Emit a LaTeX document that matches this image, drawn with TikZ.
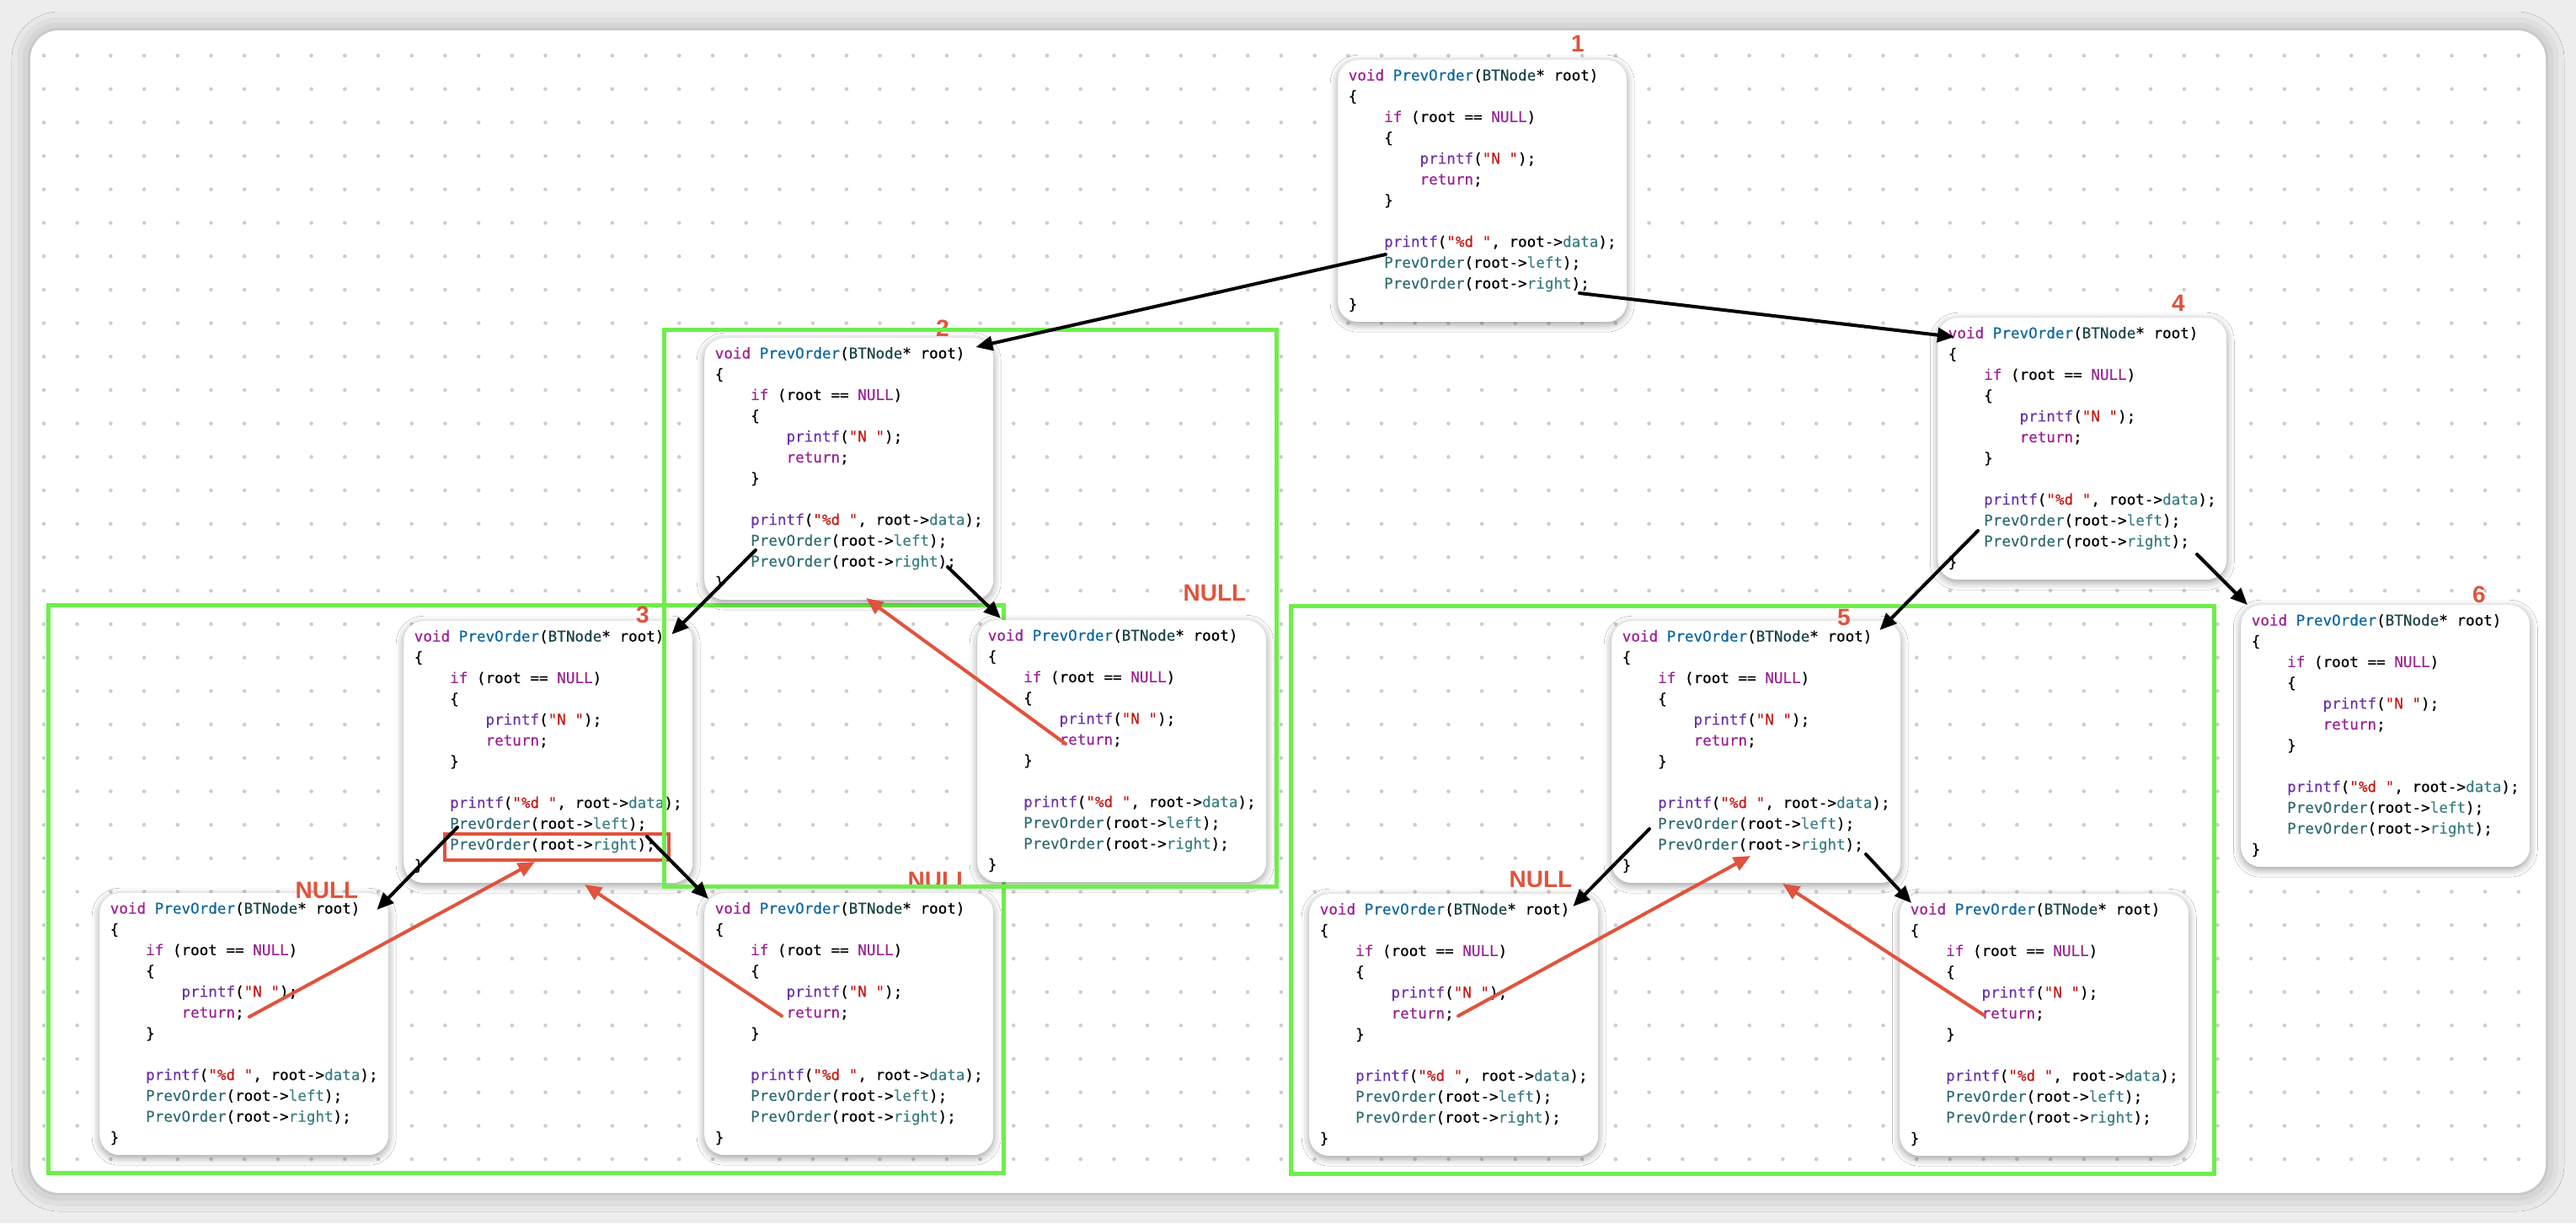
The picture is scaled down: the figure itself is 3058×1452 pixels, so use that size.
\documentclass[tikz,border=0pt]{standalone}
\usepackage{fontspec}
\setmonofont{DejaVu Sans Mono}[FakeBold=0.5]
\newfontfamily\labelfont{Liberation Sans}
\usetikzlibrary{arrows.meta,shadows.blur}

\definecolor{kwpurple}{HTML}{9B2393}
\definecolor{fnviolet}{HTML}{6C36A9}
\definecolor{declblue}{HTML}{0F68A0}
\definecolor{typeteal}{HTML}{1C464A}
\definecolor{callteal}{HTML}{326D74}
\definecolor{propteal}{HTML}{3E8087}
\definecolor{strred}{HTML}{C41A16}
\definecolor{notered}{HTML}{E0533D}
\definecolor{boxgreen}{HTML}{6EEE4C}
\definecolor{dotgray}{HTML}{CDCDCD}
\definecolor{canvasgray}{HTML}{EDEDED}

\newcommand\codefont{\ttfamily\fontsize{17.6pt}{24.7pt}\selectfont}
\newcommand\cs{\rule[-7.7pt]{0pt}{24.7pt}}
\newcommand\ind{\phantom{0000}}
\newcommand\kw[1]{\textcolor{kwpurple}{#1}}
\newcommand\fn[1]{\textcolor{fnviolet}{#1}}
\newcommand\str[1]{\textcolor{strred}{#1}}
\newcommand\callfn[1]{\textcolor{callteal}{#1}}
\newcommand\prop[1]{\textcolor{propteal}{#1}}
\newcommand\prevcode{%
\cs\kw{void} \textcolor{declblue}{PrevOrder}(\textcolor{typeteal}{BTNode}* root)\\
\cs\{\\
\cs\ind\kw{if} (root == \kw{NULL})\\
\cs\ind\{\\
\cs\ind\ind\fn{printf}(\str{"N "});\\
\cs\ind\ind\kw{return};\\
\cs\ind\}\\
\cs\\
\cs\ind\fn{printf}(\str{"\%d "}, root->\prop{data});\\
\cs\ind\callfn{PrevOrder}(root->\prop{left});\\
\cs\ind\callfn{PrevOrder}(root->\prop{right});\\
\cs\}}

\begin{document}
\begin{tikzpicture}[line cap=round,line join=round,x=1pt,y=-1pt,
  card/.style={fill=white,rounded corners=24pt,anchor=north west,
    minimum width=343pt,minimum height=311pt,inner xsep=0pt,inner ysep=7pt,
    align=left,font=\codefont,
    blur shadow={shadow xshift=0pt,shadow yshift=-3pt,shadow blur radius=9pt,shadow opacity=40}},
  steplabel/.style={text=notered,inner sep=0pt,font=\labelfont\bfseries\fontsize{28pt}{28pt}\selectfont},
  groupbox/.style={draw=boxgreen,line width=5pt,line cap=butt,line join=miter},
  callarr/.style={draw=black,line width=4pt,-{Triangle[length=20pt,width=17pt]}},
  backarr/.style={draw=notered,line width=4pt,-{Triangle[length=20pt,width=17pt]}}]
\useasboundingbox (0,0) rectangle (3058,1452);
\fill[canvasgray] (0,0) rectangle (3058,1452);
\fill[white,rounded corners=34pt,blur shadow={shadow xshift=0pt,shadow yshift=0pt,shadow blur radius=22pt,shadow opacity=30}] (36,36) rectangle (3022,1416);
% dotted canvas
\begin{scope}
\clip[rounded corners=34pt] (36,36) rectangle (3022,1416);
\foreach \i in {0,...,74}
  \foreach \j in {0,...,33}
    \fill[dotgray] (52+39.7*\i,66+39.7*\j) circle (2.3pt);
\end{scope}
\draw[groupbox] (57,718) rectangle (1191,1392);
\draw[groupbox] (1532,719) rectangle (2628,1393);
% calls
\node[card] (n1) at (1588,71) {\prevcode};
\node[card] (n2) at (836,401) {\prevcode};
\node[card] (n4) at (2300,377) {\prevcode};
\node[card] (n3) at (479,737) {\prevcode};
\node[card] (n2r) at (1160,736) {\prevcode};
\node[card] (n5) at (1913,737) {\prevcode};
\node[card] (n6) at (2660,718) {\prevcode};
\node[card] (n3l) at (118,1060) {\prevcode};
\node[card] (n3r) at (836,1060) {\prevcode};
\node[card] (n5l) at (1554,1061) {\prevcode};
\node[card] (n5r) at (2255,1061) {\prevcode};
\draw[notered,line width=4.5pt,line cap=butt,line join=miter] ([shift={(49,253)}]n3.north west) rectangle ([shift={(315,284)}]n3.north west);
\node[steplabel] (l1) at ([shift={(285,-19)}]n1.north west) {1};
\node[steplabel] (l2) at ([shift={(283,-11)}]n2.north west) {2};
\node[steplabel] (l3) at ([shift={(284,-7)}]n3.north west) {3};
\node[steplabel] (l4) at ([shift={(286,-17)}]n4.north west) {4};
\node[steplabel] (l5) at ([shift={(276,-4)}]n5.north west) {5};
\node[steplabel] (l6) at ([shift={(283,-12)}]n6.north west) {6};
\node[steplabel] (null2r) at ([shift={(282,-32)}]n2r.north west) {NULL};
\node[steplabel] (null3l) at ([shift={(270,-3)}]n3l.north west) {NULL};
\node[steplabel] (null3r) at ([shift={(279,-15)}]n3r.north west) {NULL};
\node[steplabel] (null5l) at ([shift={(275,-17)}]n5l.north west) {NULL};
\draw[groupbox] (788,391) rectangle (1515,1052);
% recursion arrows
\draw[callarr] ([shift={(57,231)}]n1.north west) -- ([shift={(-21,11)}]n2.north east);
\draw[callarr] ([shift={(287,277)}]n1.north west) -- ([shift={(20,23)}]n4.north west);
\draw[callarr] ([shift={(61,252)}]n2.north west) -- ([shift={(-25,16)}]n3.north east);
\draw[callarr] ([shift={(289,272)}]n2.north west) -- ([shift={(28,-2)}]n2r.north west);
\draw[callarr] ([shift={(64,245)}]n3.north west) -- ([shift={(-14,20)}]n3l.north east);
\draw[callarr] ([shift={(289,256)}]n3.north west) -- ([shift={(5,7)}]n3r.north west);
\draw[callarr] ([shift={(48,253)}]n4.north west) -- ([shift={(-25,11)}]n5.north east);
\draw[callarr] ([shift={(308,281)}]n4.north west) -- ([shift={(8,0)}]n6.north west);
\draw[callarr] ([shift={(45,247)}]n5.north west) -- ([shift={(-30,15)}]n5l.north east);
\draw[callarr] ([shift={(302,277)}]n5.north west) -- ([shift={(14,11)}]n5r.north west);
% returns
\draw[backarr] ([shift={(105,147)}]n2r.north west) -- ([shift={(192,309)}]n2.north west);
\draw[backarr] ([shift={(178,147)}]n3l.north west) -- ([shift={(156,286)}]n3.north west);
\draw[backarr] ([shift={(92,146)}]n3r.north west) -- ([shift={(215,313)}]n3.north west);
\draw[backarr] ([shift={(177,145)}]n5l.north west) -- ([shift={(165,279)}]n5.north west);
\draw[backarr] ([shift={(100,144)}]n5r.north west) -- ([shift={(203,312)}]n5.north west);
\end{tikzpicture}
\end{document}
